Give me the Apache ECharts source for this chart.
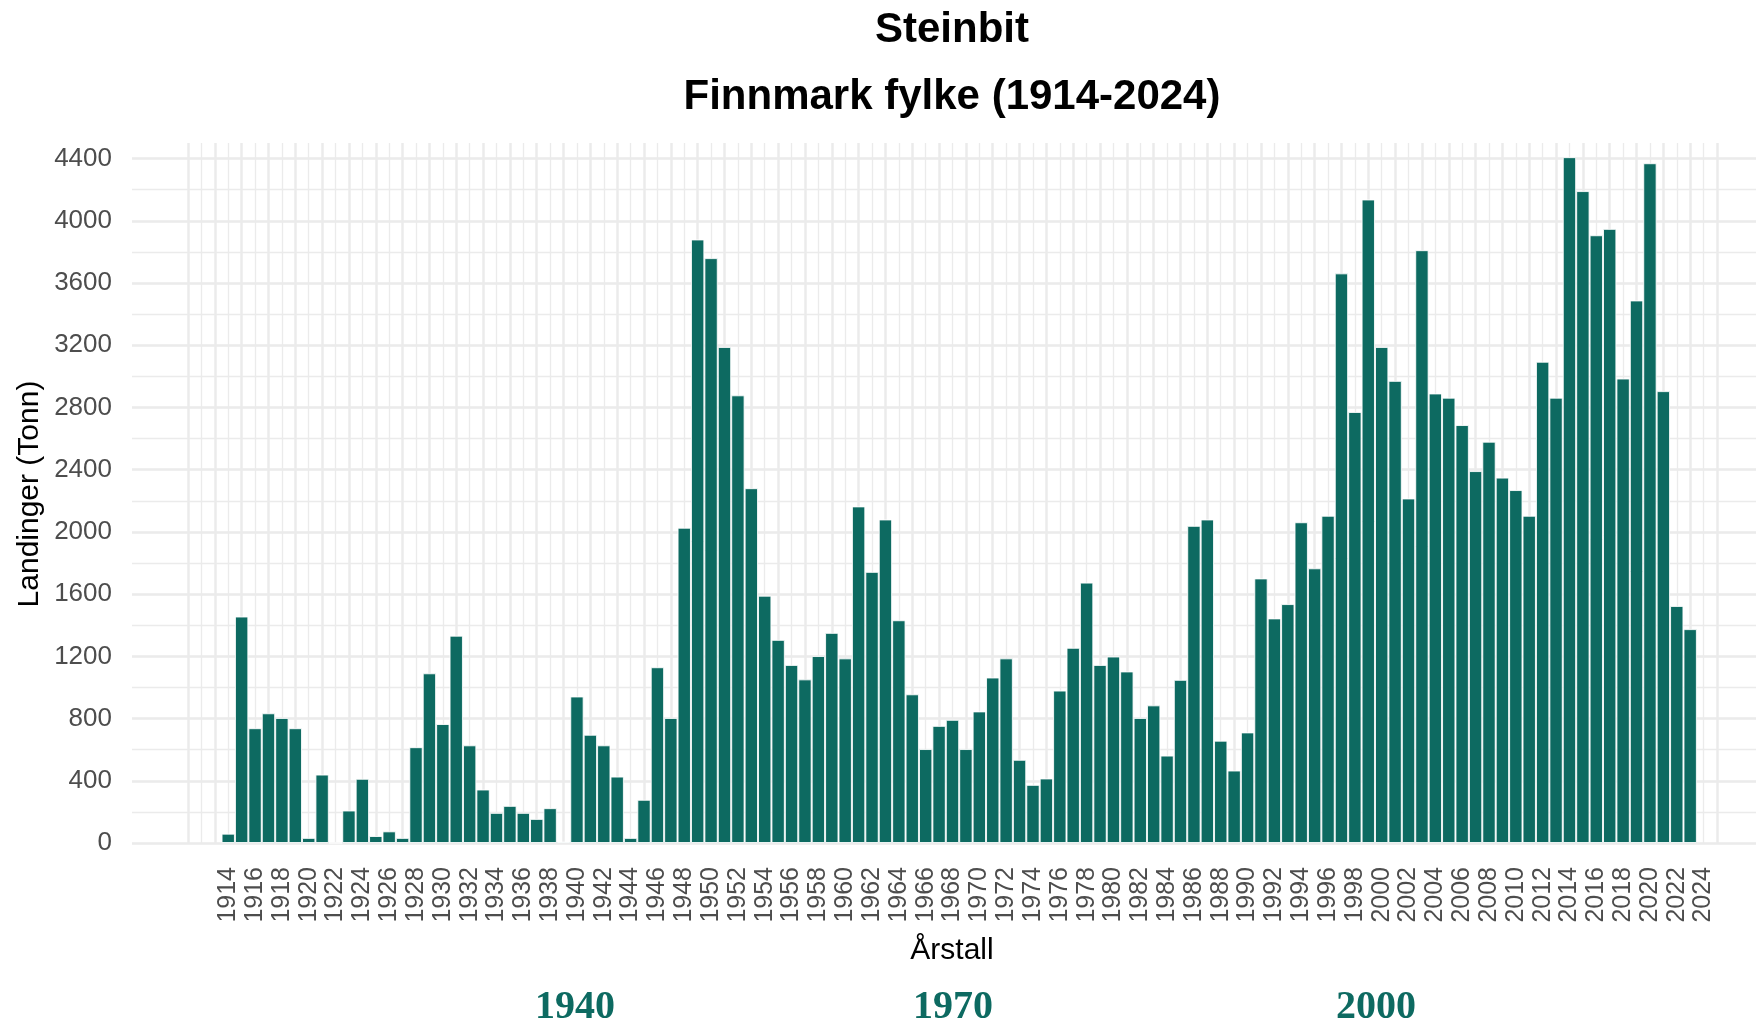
<!DOCTYPE html>
<html>
<head>
<meta charset="utf-8">
<title>Steinbit</title>
<script src="https://cdn.jsdelivr.net/npm/echarts/dist/echarts.min.js"></script>
<style>
  html, body { margin: 0; padding: 0; background: #fff; }
  #bar { width: 1756px; height: 1027px; }
</style>
</head>
<body>
<div id="bar"></div>
<script>
// landings (tonn) per year, Finnmark fylke
var firstYear = 1914;
var landings = [
  60, 1456, 738, 834, 804, 738, 33, 440, 0, 209, 413, 45, 75, 33, 616, 1091, 765, 1333, 628, 344, 194,          // 1914-1934
  239, 194, 155, 224, 9, 942, 696, 628, 427, 33, 278, 1130, 804, 2027, 3880, 3760, 3189, 2878, 2281, 1590, 1306, // 1935-1955
  1145, 1052, 1202, 1351, 1187, 2164, 1743, 2080, 1432, 956, 604, 753, 792, 604, 846, 1064, 1187, 535, 374, 415, 980, // 1956-1976
  1255, 1674, 1145, 1199, 1103, 804, 885, 562, 1049, 2039, 2080, 658, 466, 711, 1701, 1444, 1536, 2062, 1766, 2104, 3662, // 1977-1997
  2771, 4137, 3189, 2971, 2215, 3811, 2890, 2863, 2687, 2391, 2580, 2349, 2269, 2104, 3094, 2863, 4409, 4191, 3907, 3948, 2986, // 1998-2018
  3488, 4370, 2905, 1524, 1375                                                                                     // 2019-2023
];
var decadeMarks = ['1940', '1970', '2000'];

// axis labels: even years 1914..2024, y every 400
var labelFirst = 1914, labelLast = 2024;
var xMin = 1911, xMax = 2025;
var yMax = 4500, yStep = 400;

var barColor = '#0d6a61';
var gridColor = '#ebebeb';
var tickColor = '#4d4d4d';

var pairs = [];
landings.forEach(function (v, i) {
  pairs.push([firstYear + i, v]);
});

var myChart = echarts.init(document.getElementById('bar'));
myChart.setOption({
  animation: false,
  backgroundColor: '#fff',
  grid: [
    // bars + vertical grid lines
    { left: 188, right: 39, top: 143, bottom: 184, containLabel: false, outerBoundsMode: 'none' },
    // horizontal grid lines + y labels
    { left: 132, right: 0, top: 143, bottom: 184, containLabel: false, outerBoundsMode: 'none' }
  ],
  xAxis: [
    {
      type: 'value', gridIndex: 0, min: xMin, max: xMax, interval: 1,
      axisLine: { show: false }, axisTick: { show: false },
      splitLine: { show: false },
      axisLabel: {
        rotate: 90, margin: 24, fontSize: 25, color: tickColor,
        fontFamily: 'Liberation Sans',
        formatter: function (v) {
          return (v % 2 === 0 && v >= labelFirst && v <= labelLast) ? String(v) : '';
        }
      }
    },
    {
      type: 'value', gridIndex: 0, min: xMin, max: xMax, interval: 2,
      axisLine: { show: false }, axisTick: { show: false }, axisLabel: { show: false },
      splitLine: { show: true, lineStyle: { color: gridColor, width: 2.5 } },
      minorTick: { show: false, splitNumber: 2 },
      minorSplitLine: { show: true, lineStyle: { color: gridColor, width: 1.3 } }
    },
    {
      type: 'value', gridIndex: 1, min: 0, max: 1, show: false
    }
  ],
  yAxis: [
    {
      type: 'value', gridIndex: 1, position: 'left', min: 0, max: yMax, interval: yStep,
      axisLine: { show: false }, axisTick: { show: false },
      axisLabel: {
        margin: 20, fontSize: 26, color: tickColor, fontFamily: 'Liberation Sans',
        showMaxLabel: false,
        formatter: function (v) { return String(v); }
      },
      splitLine: { show: true, showMaxLine: false, lineStyle: { color: gridColor, width: 2.5 } }
    },
    {
      type: 'value', gridIndex: 1, position: 'right', min: 0, max: yMax, interval: yStep / 2,
      axisLine: { show: false }, axisTick: { show: false }, axisLabel: { show: false },
      splitLine: { show: true, showMaxLine: false, lineStyle: { color: gridColor, width: 1.3 } }
    },
    {
      type: 'value', gridIndex: 0, min: 0, max: yMax, show: false
    }
  ],
  series: [
    {
      name: 'Landinger',
      type: 'bar',
      xAxisIndex: 0,
      yAxisIndex: 2,
      barWidth: 13.4,
      itemStyle: { color: barColor, borderColor: 'rgba(255,255,255,0.85)', borderWidth: 1 },
      data: pairs
    }
  ],
  graphic: [
    { type: 'text', x: 952, y: 30, style: { text: 'Steinbit', fill: '#000', font: 'bold 42px "Liberation Sans"', align: 'center', verticalAlign: 'middle' } },
    { type: 'text', x: 952, y: 97, style: { text: 'Finnmark fylke (1914-2024)', fill: '#000', font: 'bold 42px "Liberation Sans"', align: 'center', verticalAlign: 'middle' } },
    { type: 'text', x: 30, y: 494, rotation: Math.PI / 2, style: { text: 'Landinger (Tonn)', fill: '#000', font: '30px "Liberation Sans"', align: 'center', verticalAlign: 'middle' } },
    { type: 'text', x: 952, y: 951, style: { text: 'Årstall', fill: '#000', font: '30px "Liberation Sans"', align: 'center', verticalAlign: 'middle' } },
    { type: 'text', x: 575, y: 1008, style: { text: decadeMarks[0], fill: barColor, font: 'bold 40px "Liberation Serif"', align: 'center', verticalAlign: 'middle' } },
    { type: 'text', x: 953, y: 1008, style: { text: decadeMarks[1], fill: barColor, font: 'bold 40px "Liberation Serif"', align: 'center', verticalAlign: 'middle' } },
    { type: 'text', x: 1376, y: 1008, style: { text: decadeMarks[2], fill: barColor, font: 'bold 40px "Liberation Serif"', align: 'center', verticalAlign: 'middle' } }
  ]
});
</script>
</body>
</html>
